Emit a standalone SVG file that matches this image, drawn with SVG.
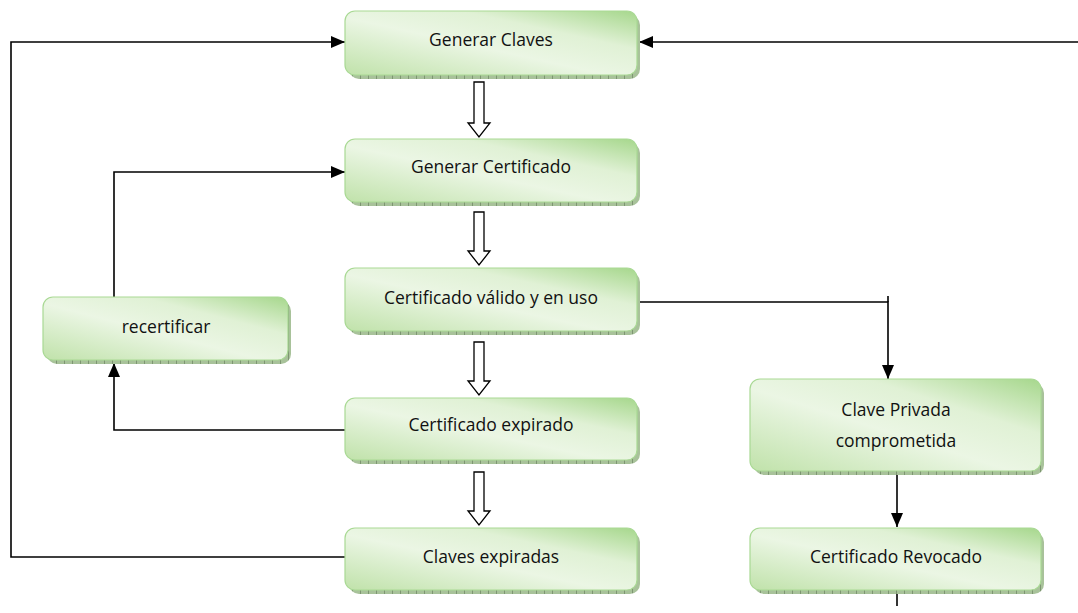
<svg xmlns="http://www.w3.org/2000/svg" width="1078" height="613" viewBox="0 0 1078 613">
  <style>
    .box { fill: url(#boxFill); stroke: #a9d994; stroke-width: 1.2; }
    .shadow { fill: url(#shadowTex); }
    .lbl { font-family: "Open Sans", "Liberation Sans", sans-serif; font-size: 17.5px; fill: #111; text-anchor: middle; dominant-baseline: central; }
    .wire { fill: none; stroke: #000; stroke-width: 1.6; }
    .hollow { fill: #fff; stroke: #000; stroke-width: 1.3; }
  </style>
  <defs>
    <linearGradient id="boxFill" x1="0" y1="1" x2="1" y2="0">
      <stop offset="0" stop-color="#c0e2aa"/>
      <stop offset="0.45" stop-color="#ebf6e4"/>
      <stop offset="0.7" stop-color="#e0f1d5"/>
      <stop offset="1" stop-color="#a6d78c"/>
    </linearGradient>
    <pattern id="shadowTex" width="8" height="4" patternUnits="userSpaceOnUse">
      <rect width="8" height="4" fill="#a8c29a"/>
      <rect width="1" height="4" fill="#7e9672"/>
    </pattern>
    <marker id="arr" markerWidth="14" markerHeight="12" refX="14" refY="6" orient="auto" markerUnits="userSpaceOnUse">
      <path d="M0,0 L14,6 L0,12 Z" fill="#000"/>
    </marker>
  </defs>

  <!-- connectors -->
  <g id="connectors">
    <path class="wire" d="M346,557 H11 V42 H345" marker-end="url(#arr)"/>
    <path class="wire" d="M1078,42 H639" marker-end="url(#arr)"/>
    <path class="wire" d="M114,297 V172 H345" marker-end="url(#arr)"/>
    <path class="wire" d="M346,430 H114 V363" marker-end="url(#arr)"/>
    <path class="wire" d="M636,302 H888 V379" marker-end="url(#arr)"/>
    <path class="wire" d="M888,296 V302"/>
    <path class="wire" d="M897,474 V527" marker-end="url(#arr)"/>
    <path class="wire" d="M897,593 V606"/>
    <!-- hollow block arrows -->
    <path class="hollow" d="M474,82 H484 V123 H490 L479,137 L468,123 H474 Z"/>
    <path class="hollow" d="M474,212 H484 V251 H490 L479,265 L468,251 H474 Z"/>
    <path class="hollow" d="M474,342 H484 V381 H490 L479,395 L468,381 H474 Z"/>
    <path class="hollow" d="M474,472 H484 V511 H490 L479,525 L468,511 H474 Z"/>
  </g>

  <g id="n-generar-claves">
    <rect class="shadow" x="349" y="15" width="291" height="64" rx="10"/>
    <rect class="box" x="345" y="11" width="292" height="64" rx="10"/>
    <text class="lbl" x="491" y="39">Generar Claves</text>
  </g>

  <g id="n-generar-certificado">
    <rect class="shadow" x="349" y="143" width="291" height="63" rx="10"/>
    <rect class="box" x="345" y="139" width="292" height="63" rx="10"/>
    <text class="lbl" x="491" y="166">Generar Certificado</text>
  </g>

  <g id="n-certificado-valido">
    <rect class="shadow" x="349" y="272" width="291" height="63" rx="10"/>
    <rect class="box" x="345" y="268" width="292" height="63" rx="10"/>
    <text class="lbl" x="491" y="297">Certificado válido y en uso</text>
  </g>

  <g id="n-recertificar">
    <rect class="shadow" x="47" y="301" width="244" height="63" rx="10"/>
    <rect class="box" x="43" y="297" width="245" height="63" rx="10"/>
    <text class="lbl" x="166" y="326">recertificar</text>
  </g>

  <g id="n-certificado-expirado">
    <rect class="shadow" x="349" y="402" width="291" height="62" rx="10"/>
    <rect class="box" x="345" y="398" width="292" height="62" rx="10"/>
    <text class="lbl" x="491" y="424">Certificado expirado</text>
  </g>

  <g id="n-claves-expiradas">
    <rect class="shadow" x="349" y="532" width="291" height="62" rx="10"/>
    <rect class="box" x="345" y="528" width="292" height="62" rx="10"/>
    <text class="lbl" x="491" y="556">Claves expiradas</text>
  </g>

  <g id="n-clave-privada">
    <rect class="shadow" x="754" y="383" width="290" height="92" rx="10"/>
    <rect class="box" x="750" y="379" width="291" height="92" rx="10"/>
    <text class="lbl" x="896" y="409">Clave Privada</text>
    <text class="lbl" x="896" y="440">comprometida</text>
  </g>

  <g id="n-certificado-revocado">
    <rect class="shadow" x="754" y="532" width="290" height="62" rx="10"/>
    <rect class="box" x="750" y="528" width="291" height="62" rx="10"/>
    <text class="lbl" x="896" y="556">Certificado Revocado</text>
  </g>
</svg>
